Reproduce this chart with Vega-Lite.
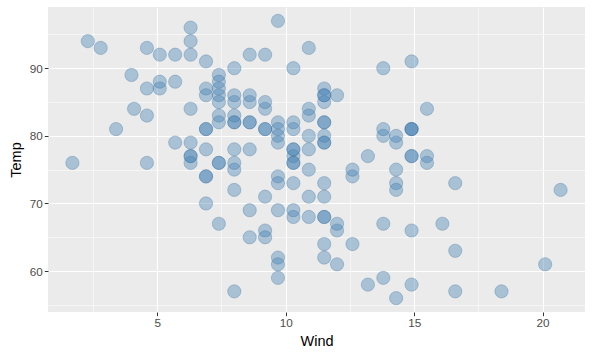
{
  "$schema": "https://vega.github.io/schema/vega-lite/v6.json",
  "width": 537,
  "height": 305,
  "autosize": {"type": "none"},
  "padding": {"left": 48, "top": 7, "right": 8, "bottom": 45},
  "background": "white",
  "config": {
    "view": {"fill": "#EBEBEB", "stroke": null},
    "font": "Liberation Sans"
  },
  "data": {"values": [
    {"Wind":7.4,"Temp":67},{"Wind":8.0,"Temp":72},{"Wind":12.6,"Temp":74},{"Wind":11.5,"Temp":62},{"Wind":14.3,"Temp":56},
    {"Wind":14.9,"Temp":66},{"Wind":8.6,"Temp":65},{"Wind":13.8,"Temp":59},{"Wind":20.1,"Temp":61},{"Wind":8.6,"Temp":69},
    {"Wind":6.9,"Temp":74},{"Wind":9.7,"Temp":69},{"Wind":9.2,"Temp":66},{"Wind":10.9,"Temp":68},{"Wind":13.2,"Temp":58},
    {"Wind":11.5,"Temp":64},{"Wind":12.0,"Temp":66},{"Wind":18.4,"Temp":57},{"Wind":11.5,"Temp":68},{"Wind":9.7,"Temp":62},
    {"Wind":9.7,"Temp":59},{"Wind":16.6,"Temp":73},{"Wind":9.7,"Temp":61},{"Wind":12.0,"Temp":61},{"Wind":16.6,"Temp":57},
    {"Wind":14.9,"Temp":58},{"Wind":8.0,"Temp":57},{"Wind":12.0,"Temp":67},{"Wind":14.9,"Temp":81},{"Wind":5.7,"Temp":79},
    {"Wind":7.4,"Temp":76},
    {"Wind":8.6,"Temp":78},{"Wind":9.7,"Temp":74},{"Wind":16.1,"Temp":67},{"Wind":9.2,"Temp":84},{"Wind":8.6,"Temp":85},
    {"Wind":14.3,"Temp":79},{"Wind":9.7,"Temp":82},{"Wind":6.9,"Temp":87},{"Wind":13.8,"Temp":90},{"Wind":11.5,"Temp":87},
    {"Wind":10.9,"Temp":93},{"Wind":9.2,"Temp":92},{"Wind":8.0,"Temp":82},{"Wind":13.8,"Temp":80},{"Wind":11.5,"Temp":79},
    {"Wind":14.9,"Temp":77},{"Wind":20.7,"Temp":72},{"Wind":9.2,"Temp":65},{"Wind":11.5,"Temp":73},{"Wind":10.3,"Temp":76},
    {"Wind":6.3,"Temp":77},{"Wind":1.7,"Temp":76},{"Wind":4.6,"Temp":76},{"Wind":6.3,"Temp":76},{"Wind":8.0,"Temp":75},
    {"Wind":8.0,"Temp":78},{"Wind":10.3,"Temp":73},{"Wind":11.5,"Temp":80},{"Wind":14.9,"Temp":77},{"Wind":8.0,"Temp":83},
    {"Wind":4.1,"Temp":84},{"Wind":9.2,"Temp":85},{"Wind":9.2,"Temp":81},{"Wind":10.9,"Temp":84},{"Wind":4.6,"Temp":83},
    {"Wind":10.9,"Temp":83},{"Wind":5.1,"Temp":88},{"Wind":6.3,"Temp":92},{"Wind":5.7,"Temp":92},{"Wind":7.4,"Temp":89},
    {"Wind":8.6,"Temp":82},{"Wind":14.3,"Temp":73},{"Wind":14.9,"Temp":81},{"Wind":14.9,"Temp":91},{"Wind":14.3,"Temp":80},
    {"Wind":6.9,"Temp":81},{"Wind":10.3,"Temp":82},{"Wind":6.3,"Temp":84},{"Wind":5.1,"Temp":87},{"Wind":11.5,"Temp":85},
    {"Wind":6.9,"Temp":74},{"Wind":9.7,"Temp":81},{"Wind":11.5,"Temp":82},{"Wind":8.6,"Temp":86},{"Wind":8.0,"Temp":85},
    {"Wind":8.6,"Temp":82},{"Wind":12.0,"Temp":86},{"Wind":7.4,"Temp":88},{"Wind":7.4,"Temp":86},{"Wind":7.4,"Temp":83},
    {"Wind":9.2,"Temp":81},
    {"Wind":6.9,"Temp":81},{"Wind":13.8,"Temp":81},{"Wind":7.4,"Temp":82},{"Wind":6.9,"Temp":86},{"Wind":7.4,"Temp":85},
    {"Wind":4.6,"Temp":87},{"Wind":4.0,"Temp":89},{"Wind":10.3,"Temp":90},{"Wind":8.0,"Temp":90},{"Wind":8.6,"Temp":92},
    {"Wind":11.5,"Temp":86},{"Wind":11.5,"Temp":86},{"Wind":11.5,"Temp":82},{"Wind":9.7,"Temp":80},{"Wind":11.5,"Temp":79},
    {"Wind":10.3,"Temp":77},{"Wind":6.3,"Temp":79},{"Wind":7.4,"Temp":76},{"Wind":10.9,"Temp":78},{"Wind":10.3,"Temp":78},
    {"Wind":15.5,"Temp":77},{"Wind":14.3,"Temp":72},{"Wind":12.6,"Temp":75},{"Wind":9.7,"Temp":79},{"Wind":3.4,"Temp":81},
    {"Wind":8.0,"Temp":86},{"Wind":5.7,"Temp":88},{"Wind":9.7,"Temp":97},{"Wind":2.3,"Temp":94},{"Wind":6.3,"Temp":96},
    {"Wind":6.3,"Temp":94},
    {"Wind":6.9,"Temp":91},{"Wind":5.1,"Temp":92},{"Wind":2.8,"Temp":93},{"Wind":4.6,"Temp":93},{"Wind":7.4,"Temp":87},
    {"Wind":15.5,"Temp":84},{"Wind":10.9,"Temp":80},{"Wind":10.3,"Temp":78},{"Wind":10.9,"Temp":75},{"Wind":9.7,"Temp":73},
    {"Wind":14.9,"Temp":81},{"Wind":15.5,"Temp":76},{"Wind":6.3,"Temp":77},{"Wind":10.9,"Temp":71},{"Wind":11.5,"Temp":71},
    {"Wind":6.9,"Temp":78},{"Wind":13.8,"Temp":67},{"Wind":10.3,"Temp":76},{"Wind":10.3,"Temp":68},{"Wind":8.0,"Temp":82},
    {"Wind":12.6,"Temp":64},{"Wind":9.2,"Temp":71},{"Wind":10.3,"Temp":81},{"Wind":10.3,"Temp":69},{"Wind":16.6,"Temp":63},
    {"Wind":6.9,"Temp":70},{"Wind":13.2,"Temp":77},{"Wind":14.3,"Temp":75},{"Wind":8.0,"Temp":76},{"Wind":11.5,"Temp":68}
  ]},
  "mark": {
    "type": "point",
    "filled": true,
    "shape": "circle",
    "size": 175,
    "color": "steelblue",
    "fillOpacity": 0.4,
    "stroke": "#3A6E99",
    "strokeOpacity": 0.4,
    "strokeWidth": 0.8
  },
  "encoding": {
    "x": {
      "field": "Wind",
      "type": "quantitative",
      "scale": {"domain": [0.75, 21.65], "nice": false, "zero": false},
      "axis": {
        "title": "Wind",
        "titleFont": "Liberation Sans",
        "titleFontSize": 14.5,
        "titleFontWeight": "normal",
        "titleColor": "black",
        "titlePadding": 5,
        "values": [2.5, 5, 7.5, 10, 12.5, 15, 17.5, 20],
        "labelExpr": "datum.value % 5 === 0 ? datum.label : ''",
        "labelFontSize": 11.7,
        "labelColor": "#4D4D4D",
        "labelPadding": 2,
        "domain": false,
        "tickColor": "#333333",
        "tickSize": 3.7,
        "tickWidth": 1,
        "tickOpacity": {"condition": {"test": "datum.value % 5 === 0", "value": 1}, "value": 0},
        "grid": true,
        "gridColor": "white",
        "gridWidth": {"condition": {"test": "datum.value % 5 === 0", "value": 1.1}, "value": 0.55}
      }
    },
    "y": {
      "field": "Temp",
      "type": "quantitative",
      "scale": {"domain": [53.95, 99.05], "nice": false, "zero": false},
      "axis": {
        "title": "Temp",
        "titleFont": "Liberation Sans",
        "titleFontSize": 14.5,
        "titleFontWeight": "normal",
        "titleColor": "black",
        "titlePadding": 6,
        "values": [55, 60, 65, 70, 75, 80, 85, 90, 95],
        "labelExpr": "datum.value % 10 === 0 ? datum.label : ''",
        "labelFontSize": 11.7,
        "labelColor": "#4D4D4D",
        "labelPadding": 2,
        "domain": false,
        "tickColor": "#333333",
        "tickSize": 3.7,
        "tickWidth": 1,
        "tickOpacity": {"condition": {"test": "datum.value % 10 === 0", "value": 1}, "value": 0},
        "grid": true,
        "gridColor": "white",
        "gridWidth": {"condition": {"test": "datum.value % 10 === 0", "value": 1.1}, "value": 0.55}
      }
    }
  }
}
